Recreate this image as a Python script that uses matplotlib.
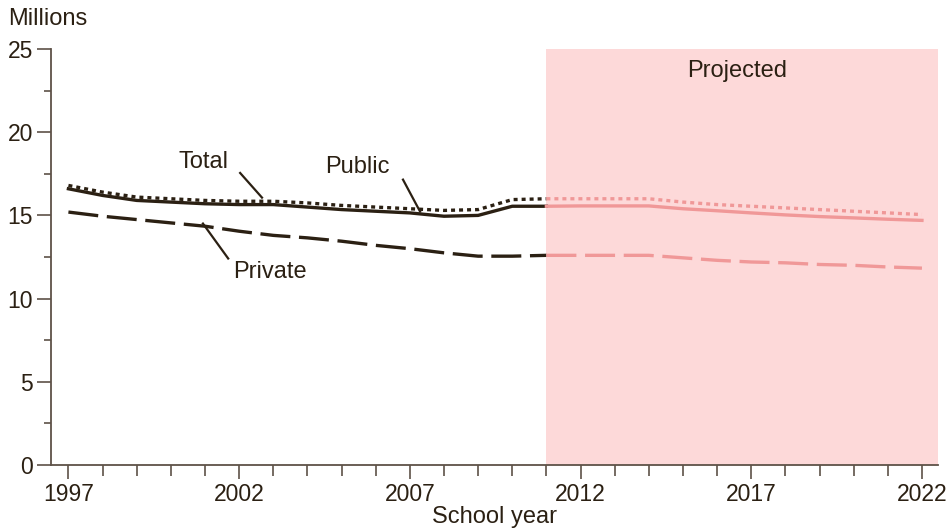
import matplotlib.pyplot as plt
import numpy as np

plt.rcParams['font.family'] = ['Liberation Sans', 'DejaVu Sans']

# School years and values (millions)
years = list(range(1997, 2023))
total = [16.8, 16.4, 16.1, 16.0, 15.9, 15.85, 15.85, 15.75, 15.6, 15.5, 15.4, 15.3, 15.35,
         15.95, 16.0, 16.0, 16.0, 16.0, 15.8, 15.65, 15.55, 15.45, 15.35, 15.25, 15.15, 15.05]
public = [16.6, 16.2, 15.9, 15.8, 15.7, 15.65, 15.65, 15.5, 15.35, 15.25, 15.15, 14.95, 15.0,
          15.55, 15.55, 15.57, 15.57, 15.57, 15.4, 15.28, 15.15, 15.03, 14.93, 14.85, 14.77, 14.7]
private = [15.2, 14.95, 14.75, 14.55, 14.35, 14.05, 13.8, 13.65, 13.45, 13.2, 13.0, 12.75, 12.55,
           12.55, 12.6, 12.6, 12.6, 12.6, 12.45, 12.3, 12.2, 12.15, 12.05, 12.0, 11.9, 11.83]
proj_start = 2011
xtick_years = [1997, 2002, 2007, 2012, 2017, 2022]
yticks = [0, 5, 10, 15, 20, 25]

dark = '#2b2013'
pink_line = '#f09898'
pink_fill = '#fdd9d9'
spine_col = '#5e5248'

fig = plt.figure(figsize=(9.46, 5.31), dpi=100)
ax = fig.add_axes([51 / 946, 66 / 531, 887 / 946, 416 / 531])

x = np.array(years)
split = years.index(proj_start)
ax.axvspan(proj_start, 2022.47, color=pink_fill, lw=0, zorder=0)

styles = [(total, (0, (1.2, 1.2))), (public, '-'), (private, (0, (9, 2.6)))]
for vals, ls in styles:
    v = np.array(vals)
    ax.plot(x[:split + 1], v[:split + 1], color=dark, lw=2.4, ls=ls, zorder=3)
    ax.plot(x[split:], v[split:], color=pink_line, lw=2.4, ls=ls, zorder=3)

ax.set_xlim(1996.49, 2022.47)
ax.set_ylim(0, 25)

for s in ['top', 'right']:
    ax.spines[s].set_visible(False)
for s in ['left', 'bottom']:
    ax.spines[s].set_color(spine_col)
    ax.spines[s].set_linewidth(1.3)

ax.set_xticks(xtick_years)
ax.set_xticks(years, minor=True)
ax.set_yticks(yticks)
ax.set_yticks(np.arange(0, 25.1, 2.5), minor=True)
ax.tick_params(axis='both', which='major', length=10, width=1.2, color=spine_col,
               labelsize=16.5, labelcolor=dark, pad=3)
ax.tick_params(axis='x', which='minor', length=8, width=1.2, color=spine_col)
ax.tick_params(axis='y', which='minor', length=5, width=1.2, color=spine_col)
ax.tick_params(axis='x', which='major', pad=3)

ax.set_xlabel('School year', fontsize=17, color=dark, labelpad=0)
fig.text(8 / 946, 1 - 19 / 531, 'Millions', fontsize=17, color=dark, va='center', ha='left')

ax.text(2016.6, 23.7, 'Projected', fontsize=17, color=dark, ha='center', va='center')

# series labels with leader lines
labels = [('Total', (2000.97, 18.23), (2002.03, 17.55), (2002.67, 16.07)),
          ('Public', (2005.45, 17.93), (2006.80, 17.15), (2007.30, 15.23)),
          ('Private', (2002.9, 11.57), (2001.68, 12.41), (2000.94, 14.51))]
for name, tpos, p0, p1 in labels:
    ax.text(*tpos, name, fontsize=17, color=dark, ha='center', va='center')
    ax.plot([p0[0], p1[0]], [p0[1], p1[1]], color=dark, lw=1.6, zorder=4)

fig.savefig('out.png', dpi=100)
